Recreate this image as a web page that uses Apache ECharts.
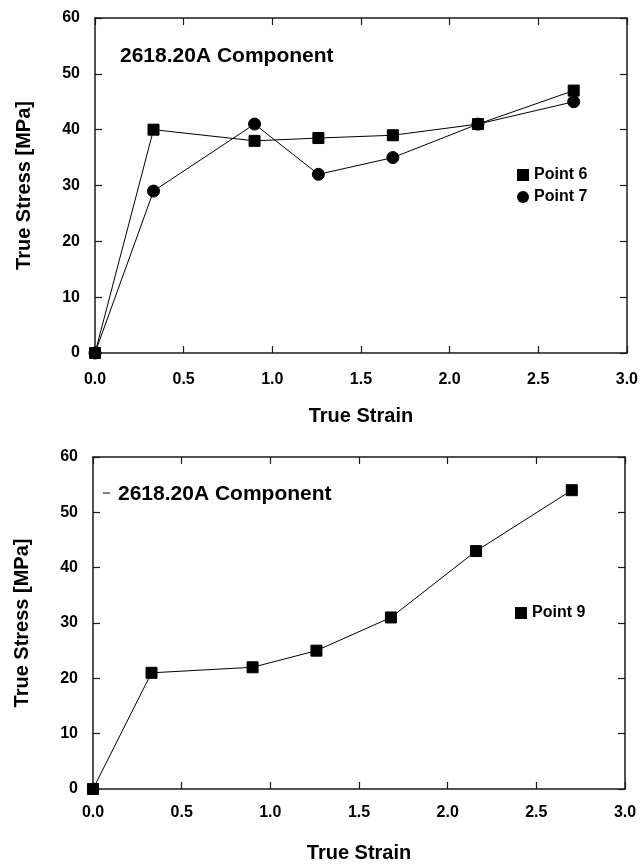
<!DOCTYPE html>
<html>
<head>
<meta charset="utf-8">
<script src="https://cdn.jsdelivr.net/npm/echarts@6/dist/echarts.min.js"></script>
<style>
  html, body { margin: 0; padding: 0; background: #fff; }
  #chart { width: 641px; height: 864px; }
</style>
</head>
<body>
<div id="chart"></div>
<script>
// Measured strain positions and true stress values (MPa)
const strain = [0, 0.33, 0.90, 1.26, 1.68, 2.16, 2.70];
const point6 = [0, 40, 38, 38.5, 39, 41, 47];
const point7 = [0, 29, 41, 32, 35, 41, 45];
const point9 = [0, 21, 22, 25, 31, 43, 54];
const xTicks = [0, 0.5, 1.0, 1.5, 2.0, 2.5, 3.0];
const yTicks = [0, 10, 20, 30, 40, 50, 60];
const panelTitle = '2618.20A Component';
const xName = 'True Strain';
const yName = 'True Stress [MPa]';

const FONT = '"Liberation Sans", Arial, sans-serif';
const INK = '#000';
const AXIS = '#1a1a1a';

const pairs = (xs, ys) => xs.map((x, i) => [x, ys[i]]);

function xAxes(gridIndex, labelMargin, nameGap) {
  const common = {
    gridIndex, type: 'value',
    min: xTicks[0], max: xTicks[xTicks.length - 1], interval: 0.5,
    splitLine: { show: false },
    axisLine: { show: true, onZero: false, lineStyle: { color: AXIS, width: 1.5 } },
    axisTick: { show: true, inside: true, length: 7, lineStyle: { color: AXIS, width: 1.2 } }
  };
  return [
    Object.assign({}, common, {
      position: 'bottom',
      name: xName, nameLocation: 'middle', nameGap,
      nameTextStyle: { fontFamily: FONT, fontWeight: 'bold', fontSize: 20, color: INK },
      axisLabel: {
        margin: labelMargin, fontFamily: FONT, fontWeight: 'bold', fontSize: 16, color: INK,
        formatter: v => v.toFixed(1)
      }
    }),
    Object.assign({}, common, { position: 'top', axisLabel: { show: false } })
  ];
}

function yAxes(gridIndex) {
  const common = {
    gridIndex, type: 'value',
    min: yTicks[0], max: yTicks[yTicks.length - 1], interval: 10,
    splitLine: { show: false },
    axisLine: { show: true, onZero: false, lineStyle: { color: AXIS, width: 1.5 } },
    axisTick: { show: true, inside: true, length: 7, lineStyle: { color: AXIS, width: 1.2 } }
  };
  return [
    Object.assign({}, common, {
      position: 'left',
      name: yName, nameLocation: 'middle', nameGap: 61, nameRotate: 90,
      nameTextStyle: { fontFamily: FONT, fontWeight: 'bold', fontSize: 20, color: INK },
      axisLabel: { margin: 15, fontFamily: FONT, fontWeight: 'bold', fontSize: 16, color: INK }
    }),
    Object.assign({}, common, { position: 'right', axisLabel: { show: false } })
  ];
}

function lineSeries(name, data, symbol, size, xi, yi) {
  return {
    name, type: 'line', data,
    xAxisIndex: xi, yAxisIndex: yi,
    symbol, symbolSize: size, showSymbol: true,
    clip: false, animation: false,
    itemStyle: { color: INK, borderColor: INK },
    lineStyle: { color: INK, width: 1 }
  };
}

const chart = echarts.init(document.getElementById('chart'), null, { renderer: 'canvas' });

chart.setOption({
  backgroundColor: '#fff',
  animation: false,
  grid: [
    { left: 95, top: 18, width: 532, height: 335 },
    { left: 93, top: 457, width: 532, height: 336 }
  ],
  xAxis: [...xAxes(0, 19, 53), ...xAxes(1, 16, 54)],
  yAxis: [...yAxes(0), ...yAxes(1)],
  title: [
    {
      text: panelTitle, left: 120, top: 46, padding: 0,
      textStyle: { fontFamily: FONT, fontWeight: 'bold', fontSize: 21, color: INK }
    },
    {
      text: panelTitle, left: 118, top: 484, padding: 0,
      textStyle: { fontFamily: FONT, fontWeight: 'bold', fontSize: 21, color: INK }
    }
  ],
  graphic: [
    { type: 'line', shape: { x1: 103, y1: 493, x2: 110, y2: 493 }, style: { stroke: INK, lineWidth: 1 } }
  ],
  legend: [
    {
      data: [{ name: 'Point 6', icon: 'rect' }, { name: 'Point 7', icon: 'circle' }],
      orient: 'vertical', left: 512, top: 162,
      itemWidth: 12, itemHeight: 12, itemGap: 6,
      textStyle: { fontFamily: FONT, fontWeight: 'bold', fontSize: 16, color: INK },
      selectedMode: false
    },
    {
      data: [{ name: 'Point 9', icon: 'rect' }],
      orient: 'vertical', left: 510, top: 600,
      itemWidth: 12, itemHeight: 12,
      textStyle: { fontFamily: FONT, fontWeight: 'bold', fontSize: 16, color: INK },
      selectedMode: false
    }
  ],
  series: [
    lineSeries('Point 6', pairs(strain, point6), 'rect', 11, 0, 0),
    lineSeries('Point 7', pairs(strain, point7), 'circle', 12, 0, 0),
    lineSeries('Point 9', pairs(strain, point9), 'rect', 11, 2, 2)
  ]
});
</script>
</body>
</html>
